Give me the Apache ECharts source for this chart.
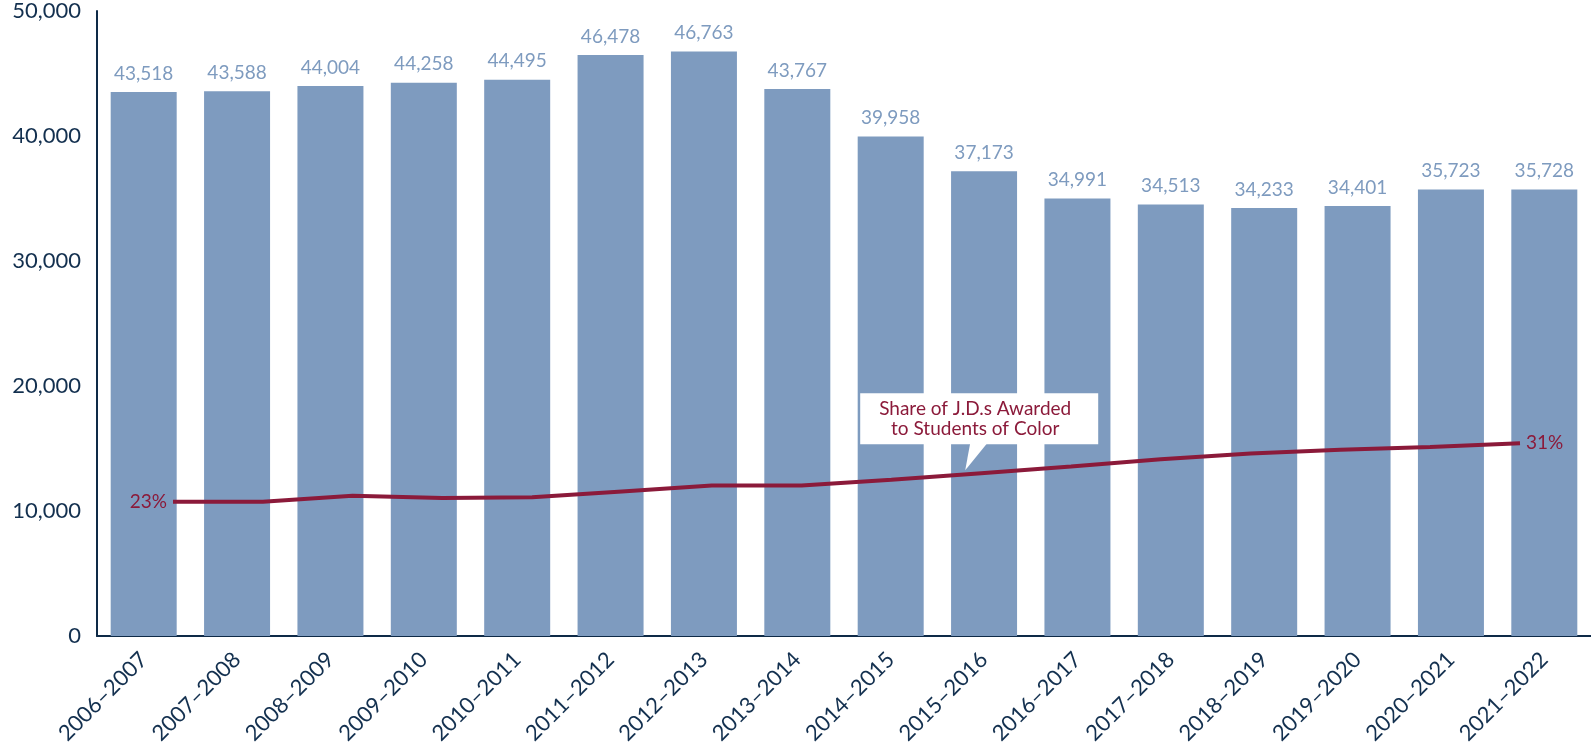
<!DOCTYPE html>
<html>
<head>
<meta charset="utf-8">
<script src="https://cdn.jsdelivr.net/npm/echarts@6/dist/echarts.min.js"></script>
<style>
  html, body { margin: 0; padding: 0; background: #fff; }
  #chart { width: 1591px; height: 749px; }
</style>
</head>
<body>
<div id="chart"></div>
<script>
// 学年
var years = ['2006–2007', '2007–2008', '2008–2009', '2009–2010', '2010–2011', '2011–2012',
    '2012–2013', '2013–2014', '2014–2015', '2015–2016', '2016–2017', '2017–2018',
    '2018–2019', '2019–2020', '2020–2021', '2021–2022'];
// J.D. 授予总数
var jdTotals = [43518, 43588, 44004, 44258, 44495, 46478, 46763, 43767, 39958, 37173,
    34991, 34513, 34233, 34401, 35723, 35728];
// 有色人种学生占比 (%)
var colorShare = [23.0, 23.0, 23.8, 23.5, 23.6, 24.4, 25.2, 25.2, 26.0, 26.9, 27.8, 28.8,
    29.6, 30.1, 30.5, 31.0];
// 纵轴刻度
var yTicks = [0, 10000, 20000, 30000, 40000, 50000];

var navy = '#0e2a47';
var barColor = '#7e9bbf';
var crimson = '#8b1a3a';
var font = 'Lato';

var myChart = echarts.init(document.getElementById('chart'));

var option = {
    animation: false,
    backgroundColor: '#fff',
    grid: [
        { left: 97, right: 0, top: 11, bottom: 113 },
        { left: 173, right: 71, top: 11, bottom: 113 }
    ],
    xAxis: [{
        type: 'category',
        gridIndex: 0,
        data: years,
        axisLine: { lineStyle: { color: navy, width: 2 } },
        axisTick: { show: false },
        axisLabel: {
            interval: 0,
            rotate: 45,
            margin: 20,
            color: '#13304f',
            fontFamily: font,
            fontSize: 22
        }
    }, {
        type: 'category',
        gridIndex: 1,
        data: years,
        boundaryGap: false,
        show: false
    }],
    yAxis: [{
        type: 'value',
        gridIndex: 0,
        min: yTicks[0],
        max: yTicks[yTicks.length - 1],
        interval: yTicks[1] - yTicks[0],
        axisLine: { show: true, lineStyle: { color: navy, width: 2 } },
        axisTick: { show: false },
        splitLine: { show: false },
        axisLabel: {
            margin: 16,
            color: '#13304f',
            fontFamily: font,
            fontSize: 22,
            formatter: function (v) { return v.toLocaleString('en-US'); }
        }
    }, {
        type: 'value',
        gridIndex: 1,
        min: 4.6,
        max: 90.2,
        show: false
    }],
    series: [{
        type: 'bar',
        xAxisIndex: 0,
        yAxisIndex: 0,
        data: jdTotals,
        barWidth: 66,
        itemStyle: { color: barColor },
        label: {
            show: true,
            position: 'top',
            distance: 9,
            color: barColor,
            fontFamily: font,
            fontSize: 19,
            formatter: function (p) { return p.value.toLocaleString('en-US'); }
        }
    }, {
        type: 'line',
        xAxisIndex: 1,
        yAxisIndex: 1,
        data: colorShare.map(function (v, i) {
            var item = { value: v };
            if (i === 0 || i === colorShare.length - 1) {
                item.label = {
                    show: true,
                    position: i === 0 ? 'left' : 'right',
                    distance: 6,
                    formatter: Math.round(v) + '%'
                };
            }
            return item;
        }),
        symbol: 'circle',
        symbolSize: 0,
        showAllSymbol: true,
        lineStyle: { color: crimson, width: 4 },
        itemStyle: { color: crimson },
        label: { color: crimson, fontFamily: font, fontSize: 19 },
        z: 5
    }]
};

myChart.setOption(option);

// 标注框，跟随 2015-2016 的折线点
var pt = myChart.convertToPixel({ xAxisIndex: 1, yAxisIndex: 1 }, [9, colorShare[9]]);
myChart.setOption({
    graphic: [{
        type: 'rect',
        z: 100,
        shape: { x: pt[0] - 121, y: pt[1] - 80, width: 238, height: 51 },
        style: { fill: '#fff' }
    }, {
        type: 'polygon',
        z: 100,
        shape: { points: [[pt[0] - 11, pt[1] - 30], [pt[0] + 6, pt[1] - 30], [pt[0] - 16, pt[1] - 3]] },
        style: { fill: '#fff' }
    }, {
        type: 'text',
        z: 101,
        x: pt[0] - 6,
        y: pt[1] - 54,
        style: {
            text: 'Share of J.D.s Awarded\nto Students of Color',
            fill: crimson,
            font: '19px Lato',
            align: 'center',
            verticalAlign: 'middle',
            lineHeight: 20
        }
    }]
});
</script>
</body>
</html>
